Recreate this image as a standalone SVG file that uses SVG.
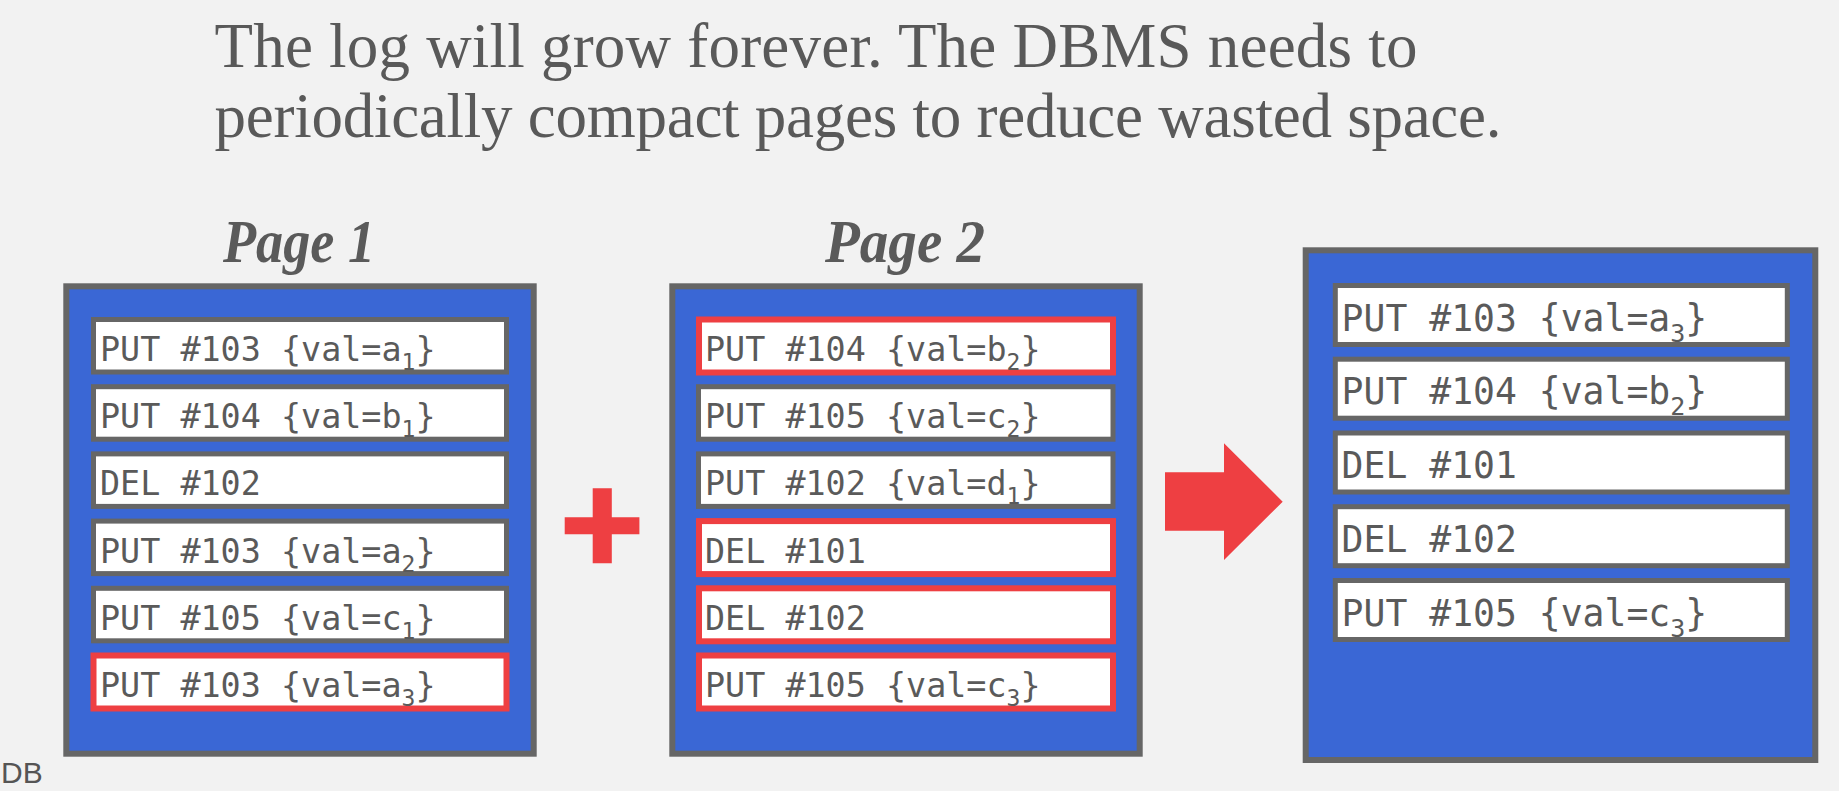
<svg xmlns="http://www.w3.org/2000/svg" width="1839" height="791" viewBox="0 0 1839 791">
<style>
.bg{fill:#f2f2f2}
.page{fill:#3a67d5;stroke:#666666;stroke-width:6}
.row{fill:#ffffff;stroke:#666666;stroke-width:5}
.row.red{stroke:#ee3f42;stroke-width:6}
.t{font-family:"DejaVu Sans Mono","Liberation Mono",monospace;fill:#5a5a5a;font-size:33.4px}
.t .sub{font-size:23px}
.tr{font-family:"DejaVu Sans Mono","Liberation Mono",monospace;fill:#5a5a5a;font-size:36.4px}
.tr .sub{font-size:25px}
.title{font-family:"Liberation Serif","Times New Roman",serif;fill:#595959;font-size:63px}
.ptitle{font-family:"Liberation Serif","Times New Roman",serif;font-weight:bold;font-style:italic;fill:#5a5a5a;font-size:61px}
.op{fill:#ee3f42}
</style>
<rect class="bg" x="0" y="0" width="1839" height="791"/>

<g id="heading">
<text class="title" x="214.5" y="66.7" textLength="1203" lengthAdjust="spacing">The log will grow forever. The DBMS needs to</text>
<text class="title" x="214.5" y="137.3" textLength="1287" lengthAdjust="spacing">periodically compact pages to reduce wasted space.</text>
</g>

<g id="logo">
<text x="1" y="783" style="font-family:'Liberation Sans',Arial,sans-serif;font-size:30px;fill:#555555">DB</text>
</g>

<g id="page1">
<text class="ptitle" x="223" y="261.7" textLength="152" lengthAdjust="spacingAndGlyphs">Page 1</text>
<rect class="page" x="66.3" y="286.3" width="467.4" height="467.4"/>
<g id="p1r1"><rect class="row" x="93.5" y="319.5" width="413" height="52.5"/><text class="t" x="100" y="361">PUT #103 {val=a<tspan class="sub" dy="9">1</tspan><tspan dy="-9">}</tspan></text></g>
<g id="p1r2"><rect class="row" x="93.5" y="386.7" width="413" height="52.5"/><text class="t" x="100" y="428.2">PUT #104 {val=b<tspan class="sub" dy="9">1</tspan><tspan dy="-9">}</tspan></text></g>
<g id="p1r3"><rect class="row" x="93.5" y="453.9" width="413" height="52.5"/><text class="t" x="100" y="495.4">DEL #102</text></g>
<g id="p1r4"><rect class="row" x="93.5" y="521.1" width="413" height="52.5"/><text class="t" x="100" y="562.6">PUT #103 {val=a<tspan class="sub" dy="9">2</tspan><tspan dy="-9">}</tspan></text></g>
<g id="p1r5"><rect class="row" x="93.5" y="588.3" width="413" height="52.5"/><text class="t" x="100" y="629.8">PUT #105 {val=c<tspan class="sub" dy="9">1</tspan><tspan dy="-9">}</tspan></text></g>
<g id="p1r6"><rect class="row red" x="93.5" y="655.5" width="413" height="53"/><text class="t" x="100" y="697">PUT #103 {val=a<tspan class="sub" dy="9">3</tspan><tspan dy="-9">}</tspan></text></g>
</g>

<g id="page2">
<text class="ptitle" x="825" y="261.7" textLength="160" lengthAdjust="spacingAndGlyphs">Page 2</text>
<rect class="page" x="672.3" y="286.3" width="467.4" height="467.4"/>
<g id="p2r1"><rect class="row red" x="699" y="319.5" width="414" height="53"/><text class="t" x="705" y="361">PUT #104 {val=b<tspan class="sub" dy="9">2</tspan><tspan dy="-9">}</tspan></text></g>
<g id="p2r2"><rect class="row" x="698.5" y="386.7" width="414.5" height="52.5"/><text class="t" x="705" y="428.2">PUT #105 {val=c<tspan class="sub" dy="9">2</tspan><tspan dy="-9">}</tspan></text></g>
<g id="p2r3"><rect class="row" x="698.5" y="453.9" width="414.5" height="52.5"/><text class="t" x="705" y="495.4">PUT #102 {val=d<tspan class="sub" dy="9">1</tspan><tspan dy="-9">}</tspan></text></g>
<g id="p2r4"><rect class="row red" x="699" y="521.1" width="414" height="53"/><text class="t" x="705" y="562.6">DEL #101</text></g>
<g id="p2r5"><rect class="row red" x="699" y="588.3" width="414" height="53"/><text class="t" x="705" y="629.8">DEL #102</text></g>
<g id="p2r6"><rect class="row red" x="699" y="655.5" width="414" height="53"/><text class="t" x="705" y="697">PUT #105 {val=c<tspan class="sub" dy="9">3</tspan><tspan dy="-9">}</tspan></text></g>
</g>

<g id="result">
<rect class="page" x="1305.7" y="250.3" width="509.6" height="509.7"/>
<g id="rr1"><rect class="row" x="1335.3" y="285.5" width="452" height="59"/><text class="tr" x="1341.6" y="330.7">PUT #103 {val=a<tspan class="sub" dy="11">3</tspan><tspan dy="-11">}</tspan></text></g>
<g id="rr2"><rect class="row" x="1335.3" y="359.2" width="452" height="59"/><text class="tr" x="1341.6" y="404.4">PUT #104 {val=b<tspan class="sub" dy="11">2</tspan><tspan dy="-11">}</tspan></text></g>
<g id="rr3"><rect class="row" x="1335.3" y="433" width="452" height="59"/><text class="tr" x="1341.6" y="478.2">DEL #101</text></g>
<g id="rr4"><rect class="row" x="1335.3" y="506.7" width="452" height="59"/><text class="tr" x="1341.6" y="551.9">DEL #102</text></g>
<g id="rr5"><rect class="row" x="1335.3" y="580.5" width="452" height="59"/><text class="tr" x="1341.6" y="625.7">PUT #105 {val=c<tspan class="sub" dy="11">3</tspan><tspan dy="-11">}</tspan></text></g>
</g>

<g id="connectors">
<path id="plus" class="op" d="M592.7 488.3 H611.8 V517.3 H639.4 V534.3 H611.8 V563.3 H592.7 V534.3 H564.7 V517.3 H592.7 Z"/>
<path id="arrow" class="op" d="M1165 472.3 H1224 V443.3 L1282.7 501.7 L1224 560 V530.7 H1165 Z"/>
</g>
</svg>
